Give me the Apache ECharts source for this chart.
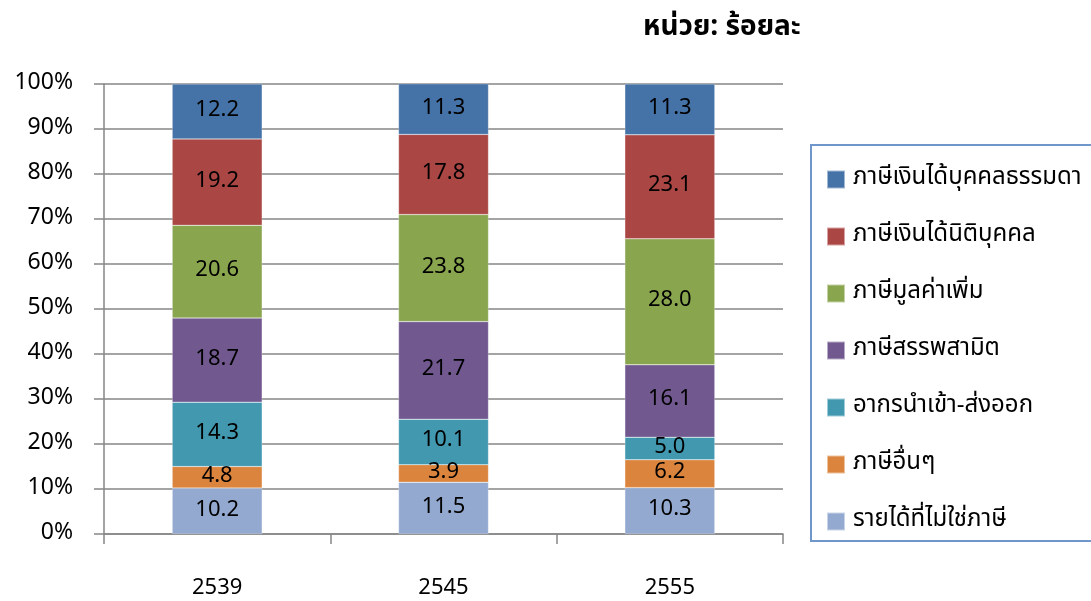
<!DOCTYPE html>
<html>
<head>
<meta charset="utf-8">
<script src="https://cdn.jsdelivr.net/npm/echarts@6/dist/echarts.min.js"></script>
<style>
html,body{margin:0;padding:0;background:#fff;}
#main{width:1091px;height:601px;}
</style>
</head>
<body>
<div id="main"></div>
<script>
const categories = ['2539', '2545', '2555'];
const nonTax = [10.2, 11.5, 10.3];
const otherTax = [4.8, 3.9, 6.2];
const customs = [14.3, 10.1, 5.0];
const excise = [18.7, 21.7, 16.1];
const vat = [20.6, 23.8, 28.0];
const corpTax = [19.2, 17.8, 23.1];
const personalTax = [12.2, 11.3, 11.3];
const yTicks = [0, 10, 20, 30, 40, 50, 60, 70, 80, 90, 100];

const seriesDefs = [
  {name: 'รายได้ที่ไม่ใช่ภาษี', data: nonTax, color: '#93a9cf'},
  {name: 'ภาษีอื่นๆ', data: otherTax, color: '#db843d'},
  {name: 'อากรนำเข้า-ส่งออก', data: customs, color: '#4198af'},
  {name: 'ภาษีสรรพสามิต', data: excise, color: '#71588f'},
  {name: 'ภาษีมูลค่าเพิ่ม', data: vat, color: '#89a54e'},
  {name: 'ภาษีเงินได้นิติบุคคล', data: corpTax, color: '#aa4643'},
  {name: 'ภาษีเงินได้บุคคลธรรมดา', data: personalTax, color: '#4572a7'}
];

const FONT = '"Noto Sans Thai", Tahoma, "Noto Sans", "DejaVu Sans", sans-serif';
const chart = echarts.init(document.getElementById('main'));
chart.setOption({
  animation: false,
  backgroundColor: '#ffffff',
  textStyle: {fontFamily: FONT},
  title: {
    text: 'หน่วย: ร้อยละ',
    left: 638, top: 10,
    textStyle: {fontSize: 28, fontWeight: 'bold', color: '#000', fontFamily: FONT}
  },
  graphic: [{
    type: 'rect',
    shape: {x: 811, y: 145, width: 300, height: 396},
    style: {fill: 'none', stroke: '#6f97cc', lineWidth: 2},
    z: 0
  }],
  legend: {
    orient: 'vertical',
    left: 826, top: 167,
    padding: 0,
    itemWidth: 18, itemHeight: 18,
    itemGap: 32,
    icon: 'rect',
    data: seriesDefs.map(s => s.name).reverse(),
    textStyle: {fontSize: 24, lineHeight: 25, color: '#000', fontFamily: FONT, padding: [0, 0, 0, 3]}
  },
  grid: {left: 104, right: 308, top: 84, bottom: 66, containLabel: false},
  xAxis: {
    type: 'category',
    data: categories,
    boundaryGap: true,
    axisLine: {lineStyle: {color: '#868686', width: 1.5}},
    axisTick: {show: true, length: 10, lineStyle: {color: '#868686', width: 1.5}},
    axisLabel: {margin: 45, fontSize: 22, color: '#000', fontFamily: FONT}
  },
  yAxis: {
    type: 'value',
    min: yTicks[0], max: yTicks[yTicks.length - 1], interval: 10,
    axisLine: {show: true, lineStyle: {color: '#868686', width: 1.5}},
    axisTick: {show: true, length: 10, lineStyle: {color: '#868686', width: 1.5}},
    axisLabel: {formatter: '{value}%', fontSize: 23, color: '#000', margin: 31, fontFamily: FONT, padding: [8, 0, 0, 0]},
    splitLine: {show: true, lineStyle: {color: '#868686', width: 1.5}}
  },
  series: seriesDefs.map(s => ({
    name: s.name,
    type: 'bar',
    stack: 'total',
    barWidth: 90,
    data: s.data,
    itemStyle: {color: s.color, borderColor: 'rgba(255,255,255,0.5)', borderWidth: 0.5},
    label: {
      show: true,
      position: 'inside',
      formatter: p => p.value.toFixed(1),
      fontSize: 22,
      color: '#000',
      fontFamily: FONT
    }
  }))
});
</script>
</body>
</html>
